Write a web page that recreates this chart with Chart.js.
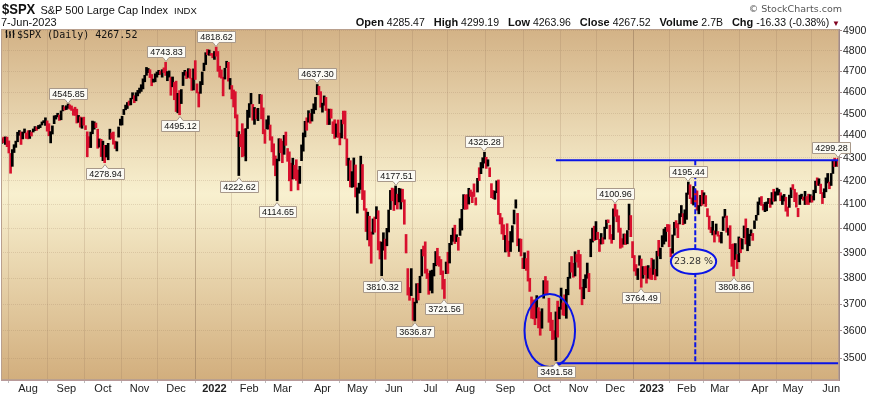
<!DOCTYPE html>
<html>
<head>
<meta charset="utf-8">
<title>$SPX Daily</title>
<script src="https://cdn.jsdelivr.net/npm/chart.js@4.4.1/dist/chart.umd.min.js"></script>
<style>
  body { margin: 0; background: #fff; font-family: "Liberation Sans", Arial, sans-serif; }
  #wrap { position: relative; width: 871px; height: 396px; overflow: hidden; }
  #c { position: absolute; left: 0; top: 0; }
  .hdr { position: absolute; white-space: nowrap; color: #111; }
  #title { left: 2px; top: 1px; font-size: 13.5px; line-height: 16px; }
  #title .sym { display: inline-block; font-size: 15.5px; font-weight: bold; transform: scaleX(0.84); transform-origin: left; margin-right: -6px; }
  #title .nm { font-size: 11px; margin-left: 1px; }
  #title .ex { font-size: 9.5px; margin-left: 6px; }
  #date { left: 1px; top: 16px; font-size: 11px; line-height: 13px; }
  #copy { right: 29px; top: 3px; font: 9.5px "DejaVu Sans", Verdana, sans-serif; line-height: 11px; color: #555; }
  #quote { right: 31px; top: 16px; font-size: 10.5px; line-height: 13px; }
  #quote b { font-size: 11px; margin-left: 6px; }
  #quote .dn { color: #800020; font-size: 8px; }
  #legend { left: 5px; top: 29px; font: 10px "DejaVu Sans Mono", monospace; line-height: 12px; color: #111; }
  #legend svg { vertical-align: -1px; margin-right: 2px; }
</style>
</head>
<body>
<div id="wrap">
  <canvas id="c" width="871" height="396"></canvas>
  <div class="hdr" id="title"><span class="sym">$SPX</span> <span class="nm">S&amp;P 500 Large Cap Index</span><span class="ex">INDX</span></div>
  <div class="hdr" id="date">7-Jun-2023</div>
  <div class="hdr" id="copy">© StockCharts.com</div>
  <div class="hdr" id="quote"><b>Open</b> 4285.47 <b>High</b> 4299.19 <b>Low</b> 4263.96 <b>Close</b> 4267.52 <b>Volume</b> 2.7B <b>Chg</b> -16.33 (-0.38%) <span class="dn">▼</span></div>
  <div class="hdr" id="legend"><svg width="10" height="10"><path d="M1.5 1v8M0.5 3h1M1.5 7h1M5 2v7M4 4h1M5 6h1M8.5 1v8M7.5 3h1M8.5 5h1" stroke="#111" stroke-width="1.3" fill="none"/></svg>$SPX (Daily) 4267.52</div>
</div>
<script>
// market holidays inside the plotted range
const holidays = ['2021-09-06', '2021-11-25', '2021-12-24', '2022-01-17', '2022-02-21', '2022-04-15',
  '2022-05-30', '2022-06-20', '2022-07-04', '2022-09-05', '2022-11-24', '2022-12-26',
  '2023-01-02', '2023-01-16', '2023-02-20', '2023-04-07', '2023-05-29'];

// daily closes, one line per month (Jul 12 2021 .. Jun 7 2023)
const closes = [
  4385, 4369, 4374, 4360, 4327, 4258, 4323, 4359, 4367, 4412, 4422, 4401, 4401, 4419, 4395,
  4387, 4423, 4403, 4429, 4437, 4432, 4437, 4448, 4461, 4468, 4480, 4448, 4400, 4406, 4442, 4480, 4486, 4496, 4470, 4509, 4529, 4523,
  4524, 4537, 4535, 4520, 4514, 4493, 4459, 4469, 4443, 4481, 4474, 4433, 4358, 4354, 4396, 4449, 4455, 4443, 4353, 4359, 4308,
  4357, 4300, 4346, 4364, 4400, 4391, 4361, 4351, 4364, 4438, 4471, 4486, 4520, 4536, 4550, 4545, 4566, 4575, 4552, 4596, 4605,
  4614, 4631, 4661, 4680, 4698, 4702, 4685, 4647, 4649, 4683, 4683, 4701, 4689, 4705, 4698, 4683, 4691, 4701, 4595, 4655, 4567,
  4513, 4577, 4538, 4592, 4687, 4701, 4667, 4712, 4669, 4634, 4710, 4669, 4621, 4568, 4649, 4697, 4726, 4791, 4786, 4793, 4779, 4766,
  4797, 4794, 4701, 4696, 4677, 4670, 4713, 4726, 4659, 4663, 4577, 4533, 4483, 4398, 4410, 4356, 4350, 4327, 4432, 4516,
  4547, 4589, 4477, 4501, 4484, 4522, 4587, 4504, 4419, 4402, 4471, 4475, 4380, 4349, 4305, 4226, 4289, 4385, 4374,
  4306, 4387, 4363, 4329, 4201, 4171, 4278, 4260, 4204, 4173, 4262, 4358, 4412, 4463, 4461, 4512, 4456, 4520, 4543, 4576, 4632, 4602, 4530,
  4546, 4583, 4525, 4481, 4500, 4488, 4413, 4397, 4447, 4393, 4392, 4462, 4459, 4394, 4272, 4296, 4175, 4184, 4288, 4132,
  4155, 4175, 4300, 4147, 4123, 3991, 4001, 3935, 3930, 4024, 4008, 4089, 3924, 3901, 3901, 3974, 3941, 3979, 4058, 4158, 4132,
  4101, 4177, 4109, 4121, 4161, 4116, 4018, 3901, 3750, 3735, 3790, 3667, 3675, 3765, 3760, 3796, 3912, 3900, 3822, 3819, 3785,
  3825, 3831, 3845, 3903, 3899, 3854, 3819, 3802, 3790, 3863, 3831, 3937, 3960, 3999, 3962, 3967, 3921, 4024, 4072, 4130,
  4119, 4091, 4155, 4152, 4145, 4140, 4122, 4210, 4207, 4280, 4297, 4305, 4274, 4284, 4228, 4138, 4129, 4141, 4199, 4058, 4031, 3986, 3955,
  3967, 3924, 3908, 3980, 4006, 4067, 4110, 3933, 3946, 3901, 3873, 3900, 3856, 3790, 3758, 3693, 3655, 3647, 3719, 3640, 3586,
  3678, 3791, 3783, 3745, 3640, 3612, 3589, 3577, 3670, 3583, 3678, 3720, 3695, 3666, 3753, 3797, 3859, 3831, 3807, 3901, 3872,
  3856, 3760, 3720, 3771, 3807, 3828, 3749, 3956, 3993, 3957, 3992, 3959, 3947, 3965, 3950, 4004, 4027, 4026, 3964, 3958, 4080,
  4077, 4072, 3999, 3941, 3934, 3964, 3934, 3991, 4020, 3995, 3896, 3852, 3818, 3822, 3878, 3822, 3845, 3829, 3783, 3849, 3840,
  3824, 3853, 3808, 3895, 3892, 3919, 3970, 3983, 3999, 3991, 3929, 3899, 3973, 4020, 4017, 4016, 4060, 4071, 4018, 4077,
  4119, 4180, 4136, 4111, 4164, 4118, 4082, 4090, 4137, 4136, 4148, 4090, 4079, 3997, 3991, 4012, 3970, 3982, 3970,
  3951, 3981, 4046, 4048, 3986, 3992, 3918, 3862, 3856, 3919, 3892, 3960, 3917, 3952, 4003, 3937, 3949, 3971, 3978, 3971, 4028, 4051, 4109,
  4125, 4101, 4090, 4105, 4109, 4109, 4092, 4146, 4138, 4151, 4155, 4155, 4130, 4134, 4137, 4072, 4056, 4135, 4169,
  4168, 4120, 4091, 4061, 4136, 4138, 4119, 4138, 4131, 4124, 4136, 4110, 4159, 4198, 4192, 4193, 4146, 4115, 4151, 4205, 4206, 4180,
  4221, 4282, 4274, 4284, 4268
];

const highs = [
  4386, 4393, 4394, 4393, 4376, 4320, 4337, 4359, 4375, 4415, 4423, 4416, 4416, 4430, 4412,
  4422, 4423, 4416, 4430, 4441, 4439, 4446, 4449, 4462, 4468, 4481, 4467, 4454, 4418, 4444, 4490, 4492, 4502, 4494, 4513, 4538, 4532,
  4537, 4546, 4541, 4536, 4522, 4530, 4521, 4492, 4485, 4481, 4484, 4445, 4417, 4395, 4416, 4466, 4463, 4457, 4429, 4385, 4383,
  4375, 4356, 4356, 4365, 4429, 4412, 4416, 4375, 4372, 4439, 4475, 4488, 4520, 4540, 4552, 4559, 4572, 4598, 4584, 4598, 4609,
  4620, 4636, 4664, 4681, 4719, 4714, 4708, 4685, 4663, 4688, 4697, 4705, 4702, 4708, 4717, 4744, 4699, 4702, 4672, 4673, 4647,
  4653, 4595, 4608, 4613, 4695, 4705, 4698, 4713, 4711, 4667, 4712, 4752, 4640, 4601, 4651, 4697, 4740, 4791, 4807, 4804, 4787, 4787,
  4797, 4819, 4797, 4725, 4707, 4672, 4715, 4749, 4744, 4666, 4632, 4611, 4603, 4495, 4418, 4405, 4454, 4429, 4432, 4516,
  4547, 4595, 4543, 4529, 4522, 4525, 4590, 4588, 4527, 4427, 4472, 4490, 4448, 4395, 4363, 4309, 4295, 4386, 4385,
  4375, 4401, 4416, 4342, 4327, 4277, 4299, 4268, 4292, 4247, 4263, 4358, 4412, 4465, 4481, 4514, 4501, 4521, 4546, 4576, 4637, 4628, 4603,
  4549, 4583, 4576, 4522, 4521, 4521, 4463, 4472, 4453, 4471, 4411, 4471, 4512, 4512, 4385, 4299, 4288, 4240, 4300, 4269,
  4170, 4190, 4308, 4271, 4158, 4082, 4067, 4050, 3985, 4039, 4047, 4090, 4073, 3946, 3944, 3982, 3956, 4000, 4076, 4159, 4169,
  4166, 4178, 4143, 4168, 4165, 4164, 4119, 3975, 3838, 3764, 3838, 3723, 3708, 3779, 3780, 3808, 3914, 3928, 3945, 3836, 3819,
  3829, 3832, 3859, 3906, 3919, 3886, 3874, 3829, 3796, 3864, 3903, 3939, 3972, 4001, 4013, 3974, 3963, 4040, 4079, 4141,
  4140, 4141, 4168, 4161, 4152, 4187, 4128, 4211, 4257, 4280, 4301, 4325, 4303, 4292, 4257, 4188, 4159, 4156, 4200, 4204, 4062, 4044, 4015,
  3971, 4019, 3948, 3987, 4011, 4076, 4119, 4062, 3957, 3956, 3880, 3901, 3878, 3908, 3800, 3728, 3716, 3717, 3733, 3687, 3672,
  3683, 3791, 3807, 3790, 3723, 3669, 3640, 3601, 3671, 3712, 3689, 3762, 3705, 3736, 3757, 3804, 3862, 3886, 3859, 3905, 3894,
  3911, 3894, 3765, 3796, 3814, 3860, 3819, 3956, 4001, 4009, 4028, 3984, 3955, 3979, 3962, 4005, 4034, 4035, 4013, 3975, 4081,
  4101, 4077, 4052, 4001, 3958, 3977, 3977, 3991, 4101, 4053, 3946, 3890, 3854, 3838, 3889, 3876, 3846, 3846, 3848, 3850, 3840,
  3879, 3873, 3835, 3907, 3951, 3920, 3970, 3997, 4004, 4016, 4015, 3918, 3973, 4025, 4032, 4020, 4061, 4095, 4061, 4077,
  4148, 4195, 4183, 4127, 4176, 4161, 4157, 4095, 4138, 4159, 4149, 4137, 4082, 4051, 4004, 4029, 3990, 4018, 3987,
  3972, 3984, 4048, 4079, 4051, 4001, 4011, 3935, 3937, 3938, 3894, 3965, 3959, 3957, 4010, 4039, 4000, 3976, 3994, 3979, 4031, 4054, 4110,
  4128, 4133, 4100, 4108, 4110, 4125, 4124, 4150, 4164, 4153, 4169, 4163, 4149, 4136, 4142, 4130, 4089, 4139, 4170,
  4184, 4164, 4149, 4083, 4139, 4143, 4131, 4155, 4133, 4143, 4141, 4135, 4160, 4199, 4213, 4209, 4186, 4150, 4166, 4213, 4232, 4195,
  4232, 4290, 4299, 4288, 4299
];

const lows = [
  4365, 4368, 4360, 4350, 4322, 4233, 4263, 4324, 4347, 4372, 4401, 4360, 4385, 4412, 4387,
  4385, 4387, 4398, 4416, 4422, 4424, 4431, 4436, 4448, 4458, 4446, 4420, 4399, 4367, 4407, 4454, 4475, 4485, 4469, 4472, 4513, 4517,
  4519, 4525, 4521, 4515, 4493, 4492, 4457, 4460, 4438, 4433, 4447, 4427, 4305, 4346, 4346, 4408, 4429, 4436, 4343, 4348, 4306,
  4288, 4279, 4304, 4292, 4383, 4387, 4361, 4342, 4331, 4393, 4447, 4448, 4496, 4518, 4524, 4539, 4541, 4569, 4551, 4560, 4583,
  4596, 4604, 4616, 4650, 4681, 4694, 4670, 4631, 4648, 4650, 4672, 4684, 4685, 4672, 4694, 4680, 4655, 4672, 4586, 4626, 4565,
  4510, 4504, 4495, 4547, 4632, 4681, 4665, 4671, 4667, 4609, 4611, 4661, 4597, 4531, 4595, 4636, 4703, 4733, 4781, 4778, 4778, 4766,
  4758, 4774, 4700, 4672, 4667, 4583, 4663, 4718, 4653, 4615, 4569, 4531, 4480, 4395, 4223, 4350, 4305, 4309, 4287, 4432,
  4483, 4545, 4470, 4451, 4476, 4468, 4547, 4476, 4408, 4365, 4430, 4429, 4379, 4327, 4268, 4222, 4115, 4287, 4323,
  4279, 4316, 4356, 4285, 4200, 4157, 4208, 4209, 4202, 4161, 4189, 4288, 4330, 4394, 4424, 4461, 4456, 4466, 4501, 4518, 4589, 4588, 4530,
  4507, 4539, 4515, 4450, 4450, 4479, 4409, 4387, 4393, 4392, 4358, 4389, 4453, 4385, 4267, 4201, 4174, 4172, 4175, 4131,
  4063, 4147, 4163, 4120, 4075, 3987, 3953, 3928, 3859, 3976, 3984, 4040, 3912, 3876, 3810, 3911, 3875, 3929, 3985, 4078, 4115,
  4074, 4098, 4080, 4110, 4080, 4110, 4017, 3900, 3735, 3715, 3733, 3640, 3637, 3705, 3716, 3744, 3809, 3888, 3820, 3799, 3738,
  3753, 3743, 3809, 3849, 3852, 3847, 3814, 3758, 3722, 3818, 3819, 3860, 3933, 3947, 3938, 3946, 3911, 3971, 3993, 4080,
  4079, 4080, 4101, 4133, 4107, 4133, 4097, 4152, 4201, 4231, 4256, 4277, 4254, 4264, 4218, 4128, 4124, 4121, 4149, 4057, 4018, 3977, 3954,
  3904, 3907, 3886, 3906, 3944, 4018, 4084, 3929, 3906, 3888, 3838, 3838, 3831, 3789, 3749, 3647, 3645, 3623, 3648, 3611, 3584,
  3610, 3723, 3739, 3740, 3632, 3601, 3568, 3570, 3492, 3577, 3645, 3681, 3659, 3657, 3647, 3736, 3800, 3824, 3804, 3809, 3864,
  3843, 3758, 3698, 3721, 3763, 3800, 3748, 3885, 3944, 3950, 3954, 3955, 3906, 3936, 3937, 3956, 3999, 4023, 3956, 3939, 3954,
  4050, 4027, 3984, 3919, 3923, 3935, 3934, 3937, 3994, 3966, 3881, 3828, 3811, 3795, 3851, 3765, 3800, 3814, 3781, 3800, 3797,
  3795, 3815, 3794, 3809, 3888, 3877, 3925, 3936, 3947, 3987, 3925, 3885, 3899, 3972, 4002, 3962, 4018, 4048, 4015, 4020,
  4037, 4142, 4124, 4103, 4097, 4109, 4075, 4060, 4093, 4096, 4103, 4091, 4048, 3996, 3982, 3973, 3944, 3976, 3968,
  3944, 3940, 3991, 4045, 3984, 3972, 3917, 3847, 3809, 3874, 3838, 3865, 3901, 3916, 3962, 3936, 3909, 3929, 3970, 3951, 3999, 4033, 4056,
  4099, 4095, 4076, 4069, 4073, 4103, 4087, 4100, 4113, 4114, 4139, 4140, 4115, 4099, 4114, 4071, 4050, 4087, 4128,
  4163, 4111, 4088, 4048, 4099, 4123, 4117, 4099, 4100, 4099, 4109, 4109, 4118, 4149, 4181, 4180, 4145, 4103, 4128, 4153, 4191, 4166,
  4180, 4232, 4262, 4263, 4264
];

const yTicks = [3500, 3600, 3700, 3800, 3900, 4000, 4100, 4200, 4300, 4400, 4500, 4600, 4700, 4800, 4900];
const monthNames = ['Jan', 'Feb', 'Mar', 'Apr', 'May', 'Jun', 'Jul', 'Aug', 'Sep', 'Oct', 'Nov', 'Dec'];

// price callouts on swing highs / lows
const callouts = [
  ['2021-09-02', 'high', '4545.85'], ['2021-10-04', 'low', '4278.94'],
  ['2021-11-22', 'high', '4743.83'], ['2021-12-03', 'low', '4495.12'],
  ['2022-01-04', 'high', '4818.62'], ['2022-01-24', 'low', '4222.62'],
  ['2022-02-24', 'low', '4114.65'], ['2022-03-29', 'high', '4637.30'],
  ['2022-05-20', 'low', '3810.32'], ['2022-06-02', 'high', '4177.51'],
  ['2022-06-17', 'low', '3636.87'], ['2022-07-14', 'low', '3721.56'],
  ['2022-08-16', 'high', '4325.28'], ['2022-10-13', 'low', '3491.58'],
  ['2022-12-01', 'high', '4100.96'], ['2022-12-22', 'low', '3764.49'],
  ['2023-02-02', 'high', '4195.44'], ['2023-03-13', 'low', '3808.86'],
  ['2023-06-07', 'high', '4299.28']
];

// hand drawn annotations
const levelLines = [4290, 3482];
const levelStart = '2022-10-13';
const measureDay = '2023-02-08';
const measureText = '23.28 %';
const lowRing = { from: '2022-09-19', to: '2022-10-28', top: 3739, bottom: 3469 };
const pctRing = { from: '2023-01-19', to: '2023-02-27', top: 3916, bottom: 3817 };

function tradingDays(start, end) {
  const out = [];
  const d = new Date(start + 'T12:00:00Z');
  const stop = new Date(end + 'T12:00:00Z');
  while (d <= stop) {
    const wd = d.getUTCDay();
    const s = d.toISOString().slice(0, 10);
    if (wd !== 0 && wd !== 6 && !holidays.includes(s)) out.push(s);
    d.setUTCDate(d.getUTCDate() + 1);
  }
  return out;
}

const days = tradingDays('2021-07-12', '2023-06-07');
const dayIdx = d => days.indexOf(d);

const monthStarts = [];
days.forEach((d, i) => {
  if (i > 0 && d.slice(5, 7) !== days[i - 1].slice(5, 7)) monthStarts.push(i);
});
const isYear = i => days[i] && days[i].slice(5, 7) === '01';

const bars = days.map((d, i) => ({ x: i, y: [lows[i], highs[i]] }));
const barColors = closes.map((c, i) => (i > 0 && c < closes[i - 1]) ? '#d8102e' : '#000000');

const AX = '"Liberation Sans", Arial, sans-serif';

const backdrop = {
  id: 'backdrop',
  beforeDraw(chart) {
    const { ctx, chartArea: a } = chart;
    const g = ctx.createLinearGradient(0, a.top, 0, a.bottom);
    g.addColorStop(0, '#d3b286');
    g.addColorStop(0.47, '#f8f0cf');
    g.addColorStop(1, '#d2ae7d');
    ctx.save();
    ctx.fillStyle = g;
    ctx.fillRect(a.left, a.top, a.width, a.height);
    ctx.restore();
  }
};

function callout(ctx, x, y, text, above) {
  ctx.font = '9px ' + AX;
  const w = Math.round(ctx.measureText(text).width) + 5, h = 11;
  let bx = Math.round(x - w / 2) + 0.5;
  if (bx + w > 850) bx = 850 - w + 0.5;
  const by = above ? Math.round(y - 5 - h) + 0.5 : Math.round(y + 5) + 0.5;
  ctx.beginPath();
  if (above) {
    ctx.moveTo(bx, by); ctx.lineTo(bx + w, by); ctx.lineTo(bx + w, by + h);
    ctx.lineTo(x + 3, by + h); ctx.lineTo(x, by + h + 4); ctx.lineTo(x - 3, by + h);
    ctx.lineTo(bx, by + h);
  } else {
    ctx.moveTo(bx, by); ctx.lineTo(x - 3, by); ctx.lineTo(x, by - 4); ctx.lineTo(x + 3, by);
    ctx.lineTo(bx + w, by); ctx.lineTo(bx + w, by + h); ctx.lineTo(bx, by + h);
  }
  ctx.closePath();
  ctx.fillStyle = '#fbfaf4';
  ctx.fill();
  ctx.strokeStyle = '#a8998a';
  ctx.lineWidth = 1;
  ctx.stroke();
  ctx.fillStyle = '#111';
  ctx.textAlign = 'center';
  ctx.textBaseline = 'middle';
  ctx.fillText(text, bx + w / 2, by + h / 2 + 0.5);
}

function ring(ctx, xs, ys, r, fill) {
  const x1 = xs.getPixelForValue(dayIdx(r.from)), x2 = xs.getPixelForValue(dayIdx(r.to));
  const y1 = ys.getPixelForValue(r.top), y2 = ys.getPixelForValue(r.bottom);
  ctx.beginPath();
  ctx.ellipse((x1 + x2) / 2, (y1 + y2) / 2, (x2 - x1) / 2, (y2 - y1) / 2, 0, 0, Math.PI * 2);
  if (fill) { ctx.fillStyle = fill; ctx.fill(); }
  ctx.strokeStyle = '#0a14e6';
  ctx.lineWidth = 2;
  ctx.stroke();
  return [(x1 + x2) / 2, (y1 + y2) / 2];
}

const marks = {
  id: 'marks',
  afterDatasetsDraw(chart) {
    const { ctx, chartArea: a } = chart;
    const xs = chart.scales.x, ys = chart.scales.y;
    ctx.save();
    // plot frame
    ctx.strokeStyle = '#b9a08e';
    ctx.lineWidth = 1;
    ctx.strokeRect(Math.round(a.left) + 0.5, Math.round(a.top) + 0.5, Math.round(a.width) - 1, Math.round(a.height) - 1);

    // support / resistance lines and the measured move
    const xStart = xs.getPixelForValue(dayIdx(levelStart));
    const xEnd = xs.getPixelForValue(days.length - 1);
    ctx.strokeStyle = '#0a14e6';
    ctx.lineWidth = 2;
    levelLines.forEach(v => {
      const y = ys.getPixelForValue(v);
      ctx.beginPath(); ctx.moveTo(xStart, y); ctx.lineTo(xEnd, y); ctx.stroke();
    });
    const xm = xs.getPixelForValue(dayIdx(measureDay));
    ctx.setLineDash([5, 2]);
    ctx.beginPath();
    ctx.moveTo(xm, ys.getPixelForValue(levelLines[0]));
    ctx.lineTo(xm, ys.getPixelForValue(levelLines[1]));
    ctx.stroke();
    ctx.setLineDash([]);

    ring(ctx, xs, ys, lowRing, null);
    const c = ring(ctx, xs, ys, pctRing, '#f5ebc9');
    ctx.fillStyle = '#333';
    ctx.font = '9.5px "DejaVu Sans", Verdana, sans-serif';
    ctx.textAlign = 'center';
    ctx.textBaseline = 'middle';
    ctx.fillText(measureText, c[0], c[1] + 0.5);

    callouts.forEach(([d, kind, text]) => {
      const i = dayIdx(d);
      const above = kind === 'high';
      const x = Math.round(xs.getPixelForValue(i));
      const y = ys.getPixelForValue(above ? highs[i] : lows[i]);
      callout(ctx, x, y, text, above);
    });
    ctx.restore();
  }
};

new Chart(document.getElementById('c'), {
  type: 'bar',
  data: {
    datasets: [{
      label: '$SPX',
      data: bars,
      backgroundColor: barColors,
      barThickness: 2,
      borderWidth: 0
    }]
  },
  options: {
    responsive: false,
    animation: false,
    layout: { padding: { top: 29, left: 1, right: 0, bottom: 0 } },
    plugins: { legend: { display: false }, tooltip: { enabled: false } },
    scales: {
      x: {
        type: 'linear',
        min: -0.5,
        max: days.length - 0.5,
        offset: false,
        afterBuildTicks: s => { s.ticks = monthStarts.map(v => ({ value: v })); },
        afterFit: s => { s.height = 16; },
        ticks: {
          autoSkip: false,
          maxRotation: 0,
          padding: -1,
          color: '#222',
          font: ctx => ({ size: 11, family: AX, weight: ctx.tick && isYear(ctx.tick.value) ? 'bold' : 'normal' }),
          callback: v => {
            const d = days[v];
            if (!d) return '';
            return d.slice(5, 7) === '01' ? d.slice(0, 4) : monthNames[+d.slice(5, 7) - 1];
          }
        },
        grid: {
          color: ctx => ctx.tick && isYear(ctx.tick.value) ? 'rgba(140,110,85,0.45)' : 'rgba(150,120,90,0.22)',
          tickLength: 3,
          tickColor: '#bbb'
        },
        border: { color: '#b99a9a' }
      },
      y: {
        type: 'logarithmic',
        position: 'right',
        min: 3423,
        max: 4909,
        afterBuildTicks: s => { s.ticks = yTicks.map(v => ({ value: v })); },
        afterFit: s => { s.width = 32; },
        ticks: {
          color: '#222',
          padding: 1,
          font: { size: 10.5, family: AX },
          callback: v => String(v)
        },
        grid: { color: 'rgba(150,120,90,0.22)', tickLength: 3, tickColor: '#a08a8a' },
        border: { color: '#a08a8a', dash: [1, 1] }
      }
    }
  },
  plugins: [backdrop, marks]
});
</script>
</body>
</html>
